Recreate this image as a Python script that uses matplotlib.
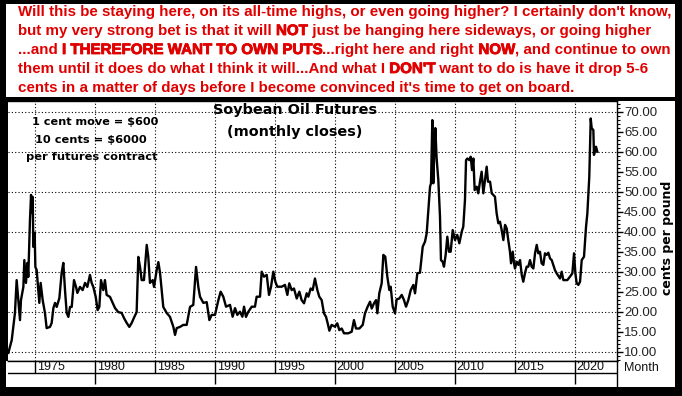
import matplotlib
matplotlib.use('Agg')
import matplotlib.pyplot as plt
import matplotlib.patheffects as pe
from matplotlib.patches import Rectangle
from matplotlib import font_manager

# monthly closes (decimal year, cents per pound)
years = [1972.78, 1973.06, 1973.33, 1973.47, 1973.61, 1973.75, 1973.83, 1974.03, 1974.11, 1974.25,
         1974.36, 1974.44, 1974.58, 1974.67, 1974.75, 1974.81, 1974.86, 1974.97, 1975.03, 1975.14,
         1975.36, 1975.47, 1975.64, 1975.83, 1975.97, 1976.25, 1976.39, 1976.53, 1976.67, 1976.81,
         1977.03, 1977.22, 1977.36, 1977.50, 1977.64, 1977.78, 1977.92, 1978.06, 1978.25, 1978.42,
         1978.53, 1978.75, 1978.97, 1979.17, 1979.36, 1979.58, 1979.72, 1979.86, 1980.06, 1980.22,
         1980.36, 1980.50, 1980.69, 1980.83, 1980.97, 1981.25, 1981.47, 1981.67, 1981.94, 1982.22,
         1982.42, 1982.64, 1982.86, 1983.06, 1983.28, 1983.47, 1983.61, 1983.75, 1983.89, 1984.08,
         1984.31, 1984.44, 1984.58, 1984.81, 1984.92, 1985.14, 1985.28, 1985.42, 1985.69, 1985.97,
         1986.25, 1986.53, 1986.67, 1986.81, 1987.08, 1987.36, 1987.64, 1987.92, 1988.19, 1988.42,
         1988.61, 1988.75, 1989.03, 1989.31, 1989.53, 1989.72, 1990.00, 1990.28, 1990.47, 1990.69,
         1990.92, 1991.25, 1991.47, 1991.67, 1991.86, 1992.08, 1992.28, 1992.42, 1992.58, 1992.78,
         1993.06, 1993.33, 1993.47, 1993.75, 1993.89, 1994.08, 1994.31, 1994.50, 1994.67, 1994.86,
         1995.03, 1995.19, 1995.56, 1995.83, 1996.03, 1996.19, 1996.39, 1996.58, 1996.81, 1997.03,
         1997.22, 1997.42, 1997.64, 1997.78, 1997.97, 1998.14, 1998.33, 1998.53, 1998.69, 1998.89,
         1999.08, 1999.25, 1999.39, 1999.53, 1999.72, 2000.00, 2000.19, 2000.36, 2000.56, 2000.75,
         2001.11, 2001.39, 2001.58, 2001.75, 2002.03, 2002.31, 2002.50, 2002.72, 2002.92, 2003.06,
         2003.25, 2003.42, 2003.53, 2003.69, 2003.89, 2004.03, 2004.19, 2004.36, 2004.53, 2004.64,
         2004.81, 2005.00, 2005.14, 2005.36, 2005.56, 2005.75, 2005.92, 2006.11, 2006.31, 2006.53,
         2006.67, 2006.86, 2007.08, 2007.31, 2007.50, 2007.64, 2007.78, 2007.92, 2008.00, 2008.11,
         2008.19, 2008.28, 2008.36, 2008.47, 2008.61, 2008.75, 2008.83, 2008.97, 2009.08, 2009.22,
         2009.36, 2009.50, 2009.64, 2009.81, 2010.00, 2010.19, 2010.36, 2010.56, 2010.69, 2010.83,
         2010.92, 2011.03, 2011.19, 2011.31, 2011.42, 2011.53, 2011.64, 2011.81, 2011.94, 2012.08,
         2012.22, 2012.36, 2012.50, 2012.64, 2012.75, 2012.92, 2013.06, 2013.19, 2013.33, 2013.47,
         2013.61, 2013.75, 2013.89, 2014.03, 2014.17, 2014.31, 2014.44, 2014.58, 2014.67, 2014.81,
         2014.92, 2015.00, 2015.14, 2015.28, 2015.42, 2015.56, 2015.69, 2015.83, 2015.97, 2016.11,
         2016.25, 2016.39, 2016.53, 2016.67, 2016.81, 2016.94, 2017.08, 2017.22, 2017.36, 2017.50,
         2017.64, 2017.78, 2017.92, 2018.06, 2018.19, 2018.33, 2018.47, 2018.75, 2018.89, 2019.03,
         2019.36, 2019.58, 2019.78, 2019.92, 2020.03, 2020.14, 2020.28, 2020.42, 2020.56, 2020.75,
         2020.92, 2021.03, 2021.19, 2021.31, 2021.39, 2021.53, 2021.58, 2021.75, 2021.86]
cents = [9.7, 12.9, 19.7, 27.9, 22.9, 17.9, 22.9, 26.2, 32.9, 27.2,
         32.2, 28.7, 42.9, 49.2, 44.7, 48.7, 36.2, 39.7, 31.2, 30.4,
         22.2, 27.2, 22.9, 19.7, 15.9, 16.2, 17.2, 20.9, 22.2, 21.2,
         23.4, 29.7, 32.2, 25.4, 19.7, 18.7, 21.2, 21.2, 27.9, 26.2,
         24.7, 26.2, 25.4, 27.2, 26.2, 29.2, 27.2, 26.2, 23.7, 20.4,
         21.2, 27.9, 25.4, 27.9, 24.2, 23.7, 22.2, 20.9, 19.9, 19.7,
         18.4, 17.2, 16.2, 17.2, 18.7, 19.9, 33.7, 31.2, 27.9, 27.9,
         36.7, 33.7, 27.2, 27.9, 26.2, 30.4, 32.4, 29.7, 21.2, 19.7,
         18.7, 16.2, 14.2, 15.9, 16.2, 16.7, 16.7, 21.2, 21.7, 31.2,
         26.2, 23.75, 22.2, 22.4, 17.9, 19.2, 19.2, 22.9, 25.0, 23.75,
         21.25, 21.7, 18.75, 20.9, 19.2, 20.0, 18.75, 21.25, 18.7, 20.0,
         21.25, 21.25, 23.75, 23.75, 30.0, 28.75, 29.2, 24.2, 26.25, 30.0,
         27.5, 26.25, 26.25, 26.7, 24.2, 27.1, 25.4, 25.8, 23.3, 25.0,
         22.9, 22.1, 24.6, 23.75, 25.8, 25.4, 28.3, 25.4, 23.75, 22.9,
         19.6, 18.75, 17.1, 15.25, 16.7, 16.25, 17.1, 15.4, 15.8, 14.6,
         14.6, 15.0, 17.9, 15.8, 15.8, 16.7, 19.6, 21.25, 22.5, 20.8,
         22.1, 22.9, 19.6, 24.6, 27.1, 34.2, 33.75, 28.75, 25.4, 26.25,
         21.25, 19.6, 23.1, 23.3, 24.2, 22.9, 21.25, 22.9, 25.4, 26.7,
         24.6, 29.6, 29.75, 36.25, 37.5, 39.6, 45.4, 51.25, 52.1, 67.9,
         52.1, 60.4, 65.9, 58.3, 52.9, 43.75, 32.9, 32.5, 31.25, 34.2,
         38.75, 35.0, 35.0, 40.4, 37.9, 39.2, 37.1, 40.0, 41.25, 47.9,
         57.9, 58.3, 57.9, 58.75, 55.4, 58.3, 50.4, 51.25, 49.6, 52.5,
         55.0, 49.6, 52.9, 56.25, 52.5, 52.5, 49.6, 49.2, 48.75, 44.6,
         42.1, 42.5, 40.4, 37.9, 41.7, 40.8, 37.9, 35.0, 32.1, 35.0,
         32.1, 30.8, 32.5, 31.7, 32.9, 29.2, 27.5, 29.6, 31.25, 31.25,
         32.9, 31.25, 30.8, 34.6, 36.7, 34.6, 35.0, 32.1, 31.7, 34.6,
         34.2, 34.75, 33.3, 32.9, 31.7, 30.4, 29.6, 28.3, 30.0, 27.9,
         27.9, 28.75, 29.6, 34.6, 29.6, 27.1, 26.7, 27.5, 32.9, 33.75,
         41.25, 44.6, 53.75, 68.3, 65.9, 65.4, 59.2, 61.25, 60.0]

year_ticks = [1975, 1980, 1985, 1990, 1995, 2000, 2005, 2010, 2015, 2020]
decade_ticks = [1980, 1990, 2000, 2010, 2020]
grid_levels = [10, 20, 30, 40, 50, 60, 70]
label_levels = [10, 15, 20, 25, 30, 35, 40, 45, 50, 55, 60, 65, 70]

top_lines = [
    [("Will this be staying here, on its all-time highs, or even going higher? I certainly don't know,", False)],
    [("but my very strong bet is that it will ", False), ("NOT", True),
     (" just be hanging here sideways, or going higher", False)],
    [("...and ", False), ("I THEREFORE WANT TO OWN PUTS", True),
     ("...right here and right ", False), ("NOW", True), (", and continue to own", False)],
    [("them until it does do what I think it will...And what I ", False), ("DON'T", True),
     (" want to do is have it drop 5-6", False)],
    [("cents in a matter of days before I become convinced it's time to get on board.", False)],
]

W, H = 682, 396
RED = '#e00000'

fig = plt.figure(figsize=(W / 100, H / 100), dpi=100)
fig.patch.set_facecolor('white')


def fx(x):
    return x / W


def fy(y):
    return 1 - y / H


# plot area in pixels: left 8, right 617, top 101, bottom 361
x0, x1, yt, yb = 8, 617, 101, 361
xmin = 1975 + (x0 - 35) / 12.0
xmax = 1975 + (x1 - 35) / 12.0
ymin = 10 - (yb - 351.7) / 4.0
ymax = 10 + (351.7 - yt) / 4.0

ax = fig.add_axes([fx(x0), fy(yb), (x1 - x0) / W, (yb - yt) / H])
ax.set_xlim(xmin, xmax)
ax.set_ylim(ymin, ymax)
ax.set_facecolor('white')

for yv in grid_levels:
    ax.axhline(yv, color='black', lw=0.8, ls=(0, (1, 2)), zorder=1)
for xv in year_ticks:
    ax.axvline(xv, color='black', lw=0.8, ls=(0, (1, 2)), zorder=1)

ax.plot(years, cents, color='black', lw=1.7, zorder=3)

ax.set_xticks([])
ax.yaxis.tick_right()
ax.set_yticks(label_levels)
ax.set_yticklabels(['%.2f' % v for v in label_levels])
ax.set_yticks(range(8, 73), minor=True)
ax.tick_params(axis='y', which='major', direction='out', length=4, width=1,
               labelsize=9.5, pad=1, labelcolor='#222222')
ax.tick_params(axis='y', which='minor', direction='out', length=2, width=0.8)
for lab in ax.get_yticklabels():
    lab.set_family('Liberation Sans')
ax.spines['left'].set_visible(False)
for s in ['top', 'right', 'bottom']:
    ax.spines[s].set_linewidth(1.0)

# month strip under the plot
sb = 386
ax2 = fig.add_axes([fx(x0), fy(sb), (x1 - x0) / W, (sb - yb) / H])
ax2.set_xlim(xmin, xmax)
ax2.set_ylim(0, 2)
ax2.set_xticks([])
ax2.set_yticks([])
ax2.spines['left'].set_visible(False)
ax2.spines['bottom'].set_visible(False)
ax2.spines['top'].set_linewidth(1.0)
ax2.spines['right'].set_linewidth(1.0)
ax2.axhline(1.08, color='black', lw=1.0)
ax2.vlines(year_ticks, 1.08, 2, color='black', lw=1.0)
ax2.vlines(decade_ticks, 0.15, 1.08, color='black', lw=1.0)
for yr in year_ticks:
    ax2.text(yr + 0.15, 1.52, str(yr), ha='left', va='center', fontsize=9,
             family='Liberation Sans', color='#111111')
fig.text(fx(641), fy(368), 'Month', ha='center', va='center', fontsize=9,
         family='Liberation Sans', color='#111111')
fig.text(fx(668), fy(238), 'cents per pound', rotation=90, ha='center', va='center',
         fontsize=9, fontweight='bold', family='DejaVu Sans')

fig.canvas.draw()
renderer = fig.canvas.get_renderer()


def text_width(s, **kw):
    t = fig.text(0, 0, s, **kw)
    w = t.get_window_extent(renderer).width
    t.remove()
    return w


def fitted(s, xc, y, target, **kw):
    w = text_width(s, fontsize=10, **kw)
    fig.text(fx(xc), fy(y), s, ha='center', va='center', fontsize=10 * target / w, **kw)


bold_kw = dict(fontweight='bold', family='DejaVu Sans', color='black')
fitted('Soybean Oil Futures', 295, 110, 164, **bold_kw)
fitted('(monthly closes)', 295, 132, 135, **bold_kw)
fitted('1 cent move = $600', 95, 122, 126, **bold_kw)
fitted('10 cents = $6000', 91, 140, 112, **bold_kw)
fitted('per futures contract', 92, 157, 131, **bold_kw)

# red commentary block
names = {f.name for f in font_manager.fontManager.ttflist}
top_font = 'Liberation Sans Narrow' if 'Liberation Sans Narrow' in names else 'Liberation Sans'
red_kw = dict(family=top_font, fontweight='bold', color=RED)
w1 = text_width(top_lines[0][0][0], fontsize=10, **red_kw)
red_size = 10 * 653 / w1
bar_w = text_width('|', fontsize=red_size, **red_kw)
heavy = [pe.withStroke(linewidth=0.6, foreground=RED)]
for i, line in enumerate(top_lines):
    cx = 18
    yy = 12 + 19 * i
    for seg, is_heavy in line:
        t = fig.text(fx(cx), fy(yy), seg, ha='left', va='center', fontsize=red_size, **red_kw)
        if is_heavy:
            t.set_path_effects(heavy)
        cx += text_width(seg + '|', fontsize=red_size, **red_kw) - bar_w

# black frame
for (rx, ry, rw, rh) in [(0, 0, W, 4), (0, 0, 6, H), (675, 0, 7, H), (0, 387, W, 9), (0, 97, W, 4)]:
    fig.patches.append(Rectangle((fx(rx), fy(ry + rh)), rw / W, rh / H, transform=fig.transFigure,
                                 facecolor='black', edgecolor='none', zorder=10))
fig.patches.append(Rectangle((fx(6), fy(361)), 2 / W, (361 - 101) / H, transform=fig.transFigure,
                             facecolor='black', edgecolor='none', zorder=10))

fig.savefig('out.png', dpi=100)
